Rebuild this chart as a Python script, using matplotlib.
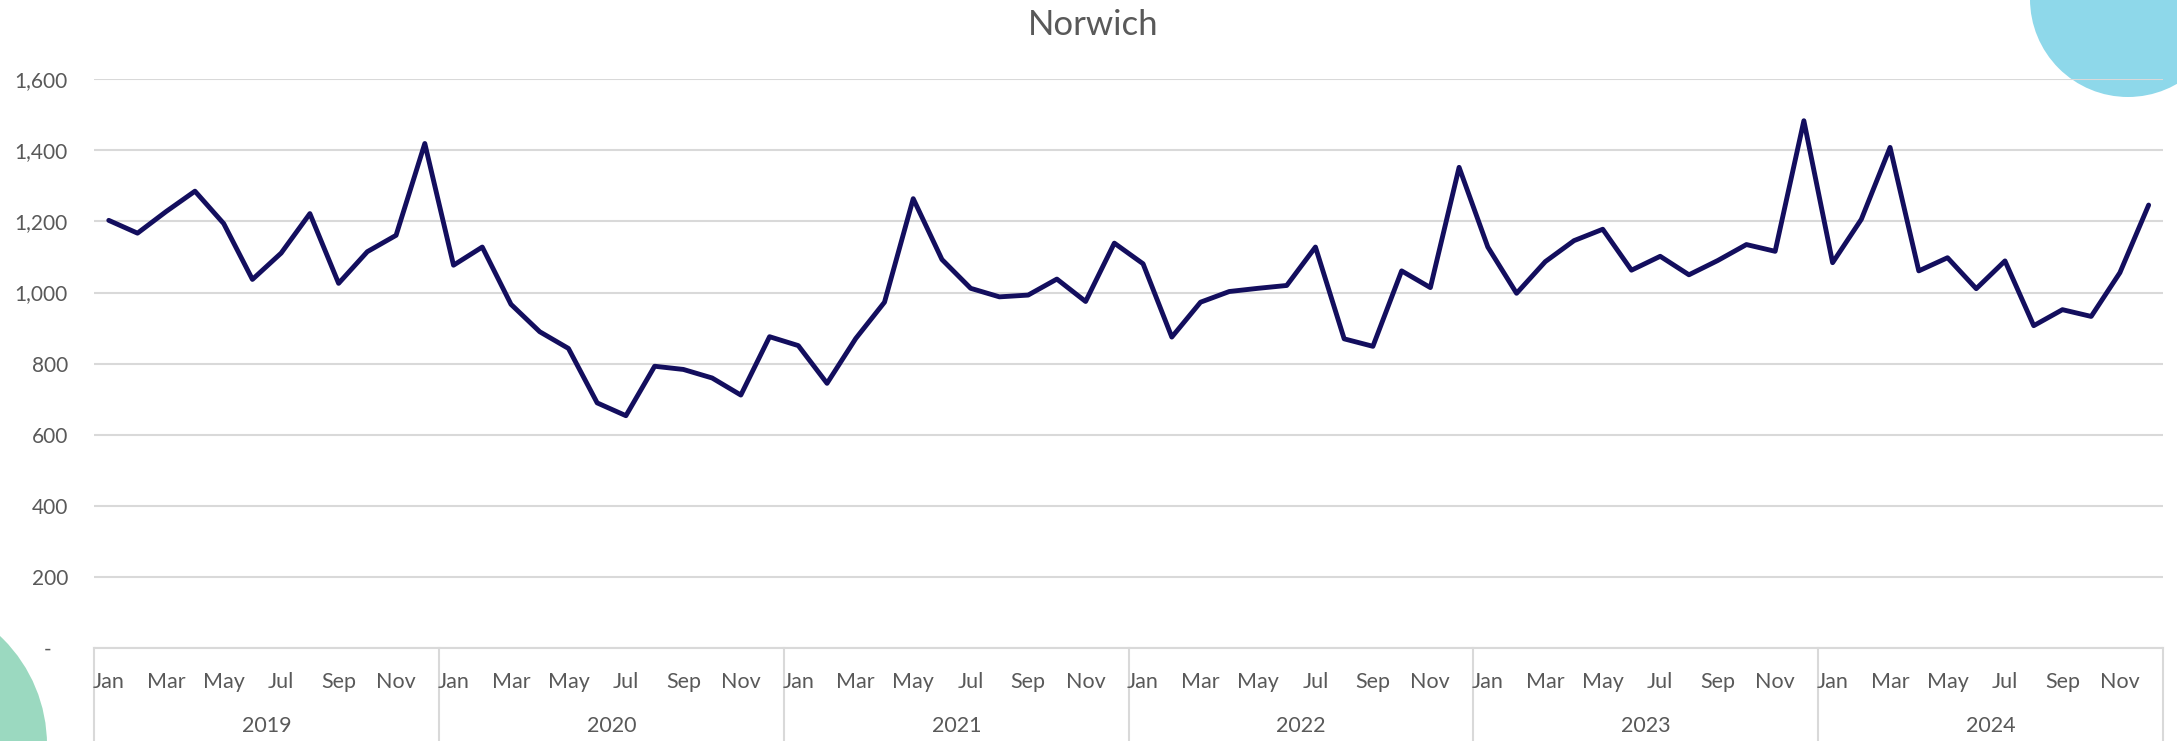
import numpy as np
import matplotlib
matplotlib.use("Agg")
import matplotlib.pyplot as plt
from matplotlib.patches import Circle
from matplotlib.ticker import FuncFormatter, FixedLocator
import matplotlib.transforms as mtransforms

title = "Norwich"
years = ["2019", "2020", "2021", "2022", "2023", "2024"]
months = ["Jan", "Feb", "Mar", "Apr", "May", "Jun",
          "Jul", "Aug", "Sep", "Oct", "Nov", "Dec"]
values_2019 = [1203, 1167, 1228, 1285, 1194, 1037, 1111, 1222, 1026, 1115, 1161, 1419]
values_2020 = [1077, 1128, 967, 890, 843, 690, 654, 793, 784, 760, 712, 876]
values_2021 = [851, 745, 871, 973, 1264, 1093, 1012, 988, 993, 1038, 975, 1139]
values_2022 = [1081, 875, 973, 1003, 1012, 1020, 1128, 870, 849, 1061, 1014, 1352]
values_2023 = [1128, 998, 1087, 1146, 1178, 1063, 1102, 1050, 1090, 1135, 1116, 1483]
values_2024 = [1084, 1206, 1408, 1061, 1098, 1011, 1089, 907, 952, 933, 1056, 1246]
y_ticks = [0, 200, 400, 600, 800, 1000, 1200, 1400, 1600]

series = values_2019 + values_2020 + values_2021 + values_2022 + values_2023 + values_2024
n = len(series)
x = np.arange(n)

FONT = "Lato"
TXT = "#595959"
GRID = "#D9D9D9"
LINE = "#130E5E"

W, H = 2177, 741
fig = plt.figure(figsize=(W / 100, H / 100), dpi=100)
fig.patch.set_facecolor("white")

# decorative circles (behind chart)
fig.add_artist(Circle((2128 / 100, (H + 1) / 100), 0.98, transform=fig.dpi_scale_trans,
                      facecolor="#8ED8EA", edgecolor="none", zorder=-5))
fig.add_artist(Circle((-103 / 100, (H - 745) / 100), 1.50, transform=fig.dpi_scale_trans,
                      facecolor="#9BD9C0", edgecolor="none", zorder=-5))

left_px, right_px = 94.4, 2163.0
top_px, bot_px = 79.1, 648.4
ax = fig.add_axes([left_px / W, 1 - bot_px / H, (right_px - left_px) / W, (bot_px - top_px) / H])
ax.set_facecolor("none")

ax.plot(x, series, color=LINE, lw=3.5, solid_joinstyle="round", solid_capstyle="round", zorder=3)

ax.set_xlim(-0.5, n - 0.5)
ax.set_ylim(0, 1600)
ax.yaxis.set_major_locator(FixedLocator(y_ticks))
ax.yaxis.set_major_formatter(FuncFormatter(lambda v, p: "-   " if v == 0 else f"{int(v):,}"))
ax.grid(axis="y", color=GRID, lw=1.5, zorder=0)
ax.set_axisbelow(True)
for s in ["top", "right", "left"]:
    ax.spines[s].set_visible(False)
ax.spines["bottom"].set_color(GRID)
ax.spines["bottom"].set_linewidth(1.5)
ax.tick_params(axis="y", length=0, pad=19, labelsize=15, labelcolor=TXT)
ax.tick_params(axis="x", length=0, labelbottom=False)
for lab in ax.get_yticklabels():
    lab.set_fontfamily(FONT)

trans = mtransforms.blended_transform_factory(ax.transData, ax.transAxes)
axh = bot_px - top_px
y_month = -(681.7 - bot_px) / axh
y_year = -(726.0 - bot_px) / axh
y_bottom = -(H - bot_px + 5) / axh

for i in range(n):
    m = months[i % 12]
    if i % 2 == 0:
        ax.text(i, y_month, m, transform=trans, ha="center", va="center",
                fontsize=15.5, color=TXT, fontfamily=FONT)
for k, yr in enumerate(years):
    ax.text(12 * k + 5.5, y_year, yr, transform=trans, ha="center", va="center",
            fontsize=15.5, color=TXT, fontfamily=FONT)
for k in range(len(years) + 1):
    ax.plot([12 * k - 0.5, 12 * k - 0.5], [0, y_bottom], transform=trans, color=GRID,
            lw=1.5, clip_on=False, zorder=1)

fig.text(1093 / W, 1 - 25 / H, title, ha="center", va="center", fontsize=25,
         color=TXT, fontfamily=FONT)

fig.savefig("out.png", dpi=100)
